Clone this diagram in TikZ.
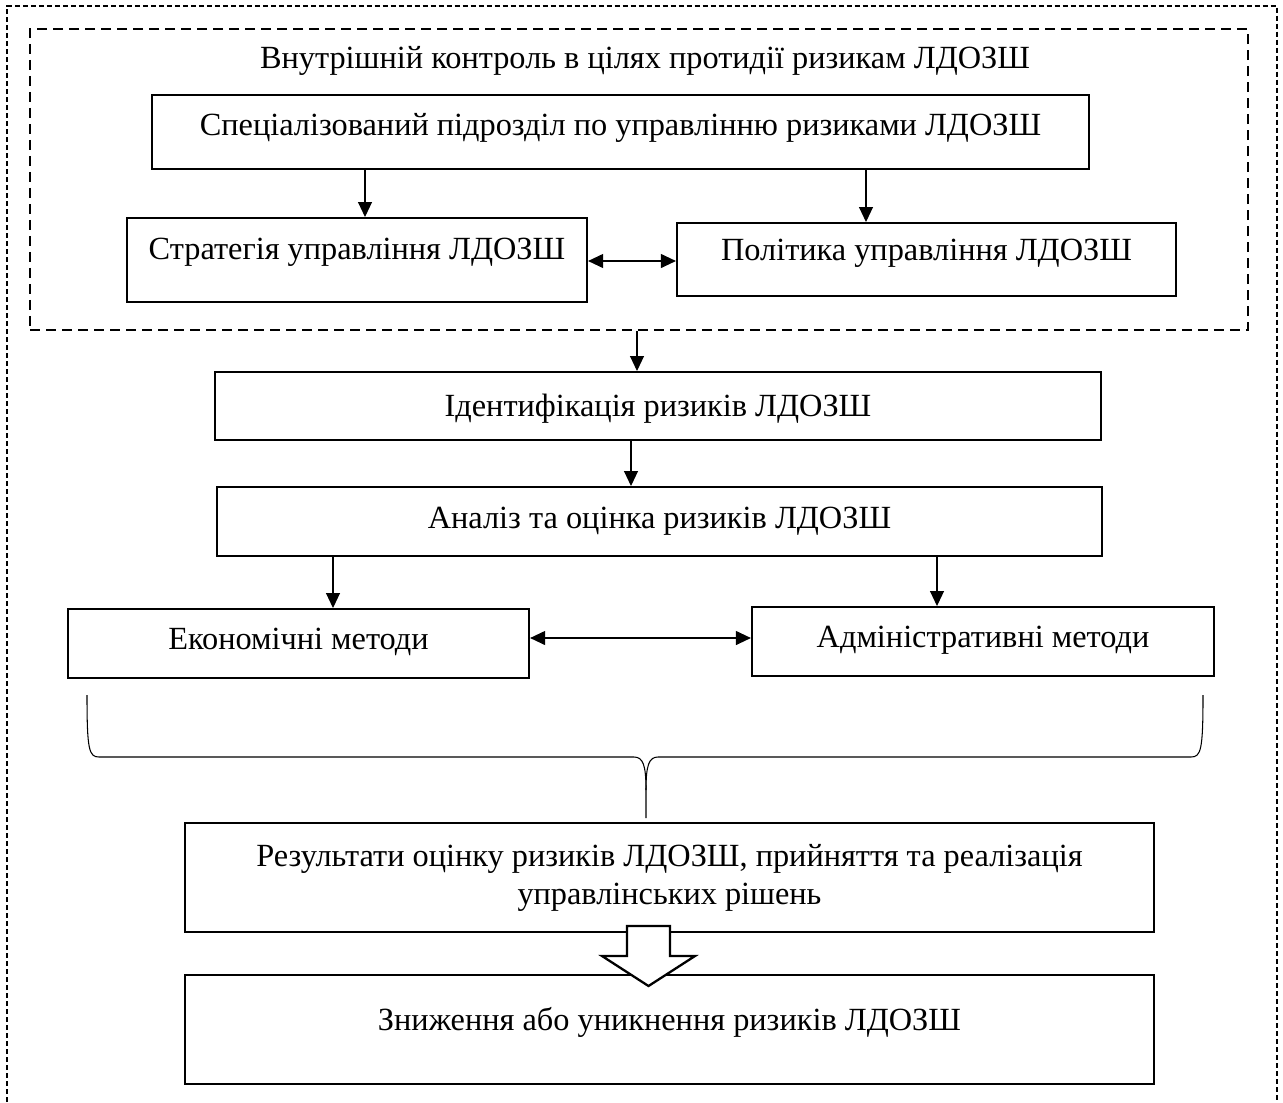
\documentclass[tikz,border=0pt]{standalone}
\usepackage{fontspec}
\setmainfont{Liberation Serif}
\usetikzlibrary{arrows.meta}

\begin{document}
\begin{tikzpicture}
[x=0.02cm,y=-0.02cm,font=\fontsize{18.4}{21.5}\selectfont,
  boxdecorate/.style={draw,line width=1.3pt,inner sep=0pt,anchor=north},%
  framedecorate/.style={draw,line width=1.2pt,dash pattern=on 0.2cm off 0.12cm,inner sep=0pt},%
  arrowdecorate/.style={-{Triangle[length=0.3cm,width=0.28cm]},line width=0.6pt},%
  twowaydecorate/.style={{Triangle[length=0.3cm,width=0.28cm]}-{Triangle[length=0.3cm,width=0.28cm]},line width=0.6pt},%
  bracedecorate/.style={line width=0.6pt}]
\useasboundingbox (0,0) rectangle (1283,1102);
% outer frame
\draw[line width=1.2pt,dash pattern=on 0.1cm off 0.06cm] (7,1102) -- (7,6) -- (1277,6) -- (1277,1102);
% nodes or boxes
\node (ctrl) at (639,179.5) [framedecorate,minimum width=24.36cm,minimum height=6.02cm] {};
\node (ctrltitle) at (645,68) [anchor=base] {Внутрішній контроль в цілях протидії ризикам ЛДОЗШ};
\node (spec) at (620.5,94) [boxdecorate,minimum width=18.74cm,text height=0.80cm,text depth=0.68cm] {Спеціалізований підрозділ по управлінню ризиками ЛДОЗШ};
\node (strat) at (357,217) [boxdecorate,minimum width=9.20cm,text height=0.82cm,text depth=0.86cm] {Стратегія управління ЛДОЗШ};
\node (polit) at (926.5,222) [boxdecorate,minimum width=9.98cm,text height=0.74cm,text depth=0.72cm] {Політика управління ЛДОЗШ};
\node (ident) at (658,371) [boxdecorate,minimum width=17.72cm,text height=0.88cm,text depth=0.48cm] {Ідентифікація ризиків ЛДОЗШ};
\node (anal) at (659.5,486) [boxdecorate,minimum width=17.70cm,text height=0.82cm,text depth=0.56cm] {Аналіз та оцінка ризиків ЛДОЗШ};
\node (econ) at (298.5,608) [boxdecorate,minimum width=9.22cm,text height=0.80cm,text depth=0.58cm] {Економічні методи};
\node (admin) at (983,606) [boxdecorate,minimum width=9.24cm,text height=0.80cm,text depth=0.58cm] {Адміністративні методи};
\node (result) at (669.5,822) [boxdecorate,minimum width=19.38cm,minimum height=2.18cm,align=center] {Результати оцінку ризиків ЛДОЗШ, прийняття та реалізація\\управлінських рішень};
\node (reduce) at (669.5,974) [boxdecorate,minimum width=19.38cm,text height=1.10cm,text depth=1.08cm] {Зниження або уникнення ризиків ЛДОЗШ};
% edges or arrows
\draw[arrowdecorate] (365,0 |- spec.south) -- (365,0 |- strat.north);
\draw[arrowdecorate] (866,0 |- spec.south) -- (866,0 |- polit.north);
\draw[twowaydecorate] (strat.east |- 0,261) -- (polit.west |- 0,261);
\draw[arrowdecorate] (637,0 |- ctrl.south) -- (637,0 |- ident.north);
\draw[arrowdecorate] (631,0 |- ident.south) -- (631,0 |- anal.north);
\draw[arrowdecorate] (333,0 |- anal.south) -- (333,0 |- econ.north);
\draw[arrowdecorate] (937,0 |- anal.south) -- (937,0 |- admin.north);
\draw[twowaydecorate] (econ.east |- 0,638) -- (admin.west |- 0,638);
% brace
\coordinate (braceL) at (87,695);
\coordinate (braceR) at (1203,695);
\coordinate (braceT) at (646,818);
\draw[bracedecorate] (braceL) .. controls +(0,55) and +(-10,0) .. (99,757) -- (634,757) .. controls +(9,0) and +(0,-25) .. (646,790) -- (braceT);
\draw[bracedecorate] (646,790) .. controls +(0,-25) and +(-9,0) .. (658,757) -- (1191,757) .. controls +(10,0) and +(0,55) .. (braceR);
% block arrow
\draw[line width=1.3pt,fill=white] (627,926) -- (670,926) -- (670,956) -- (695,956) -- (648.5,986) -- (602,956) -- (627,956) -- cycle;
\end{tikzpicture}
\end{document}
